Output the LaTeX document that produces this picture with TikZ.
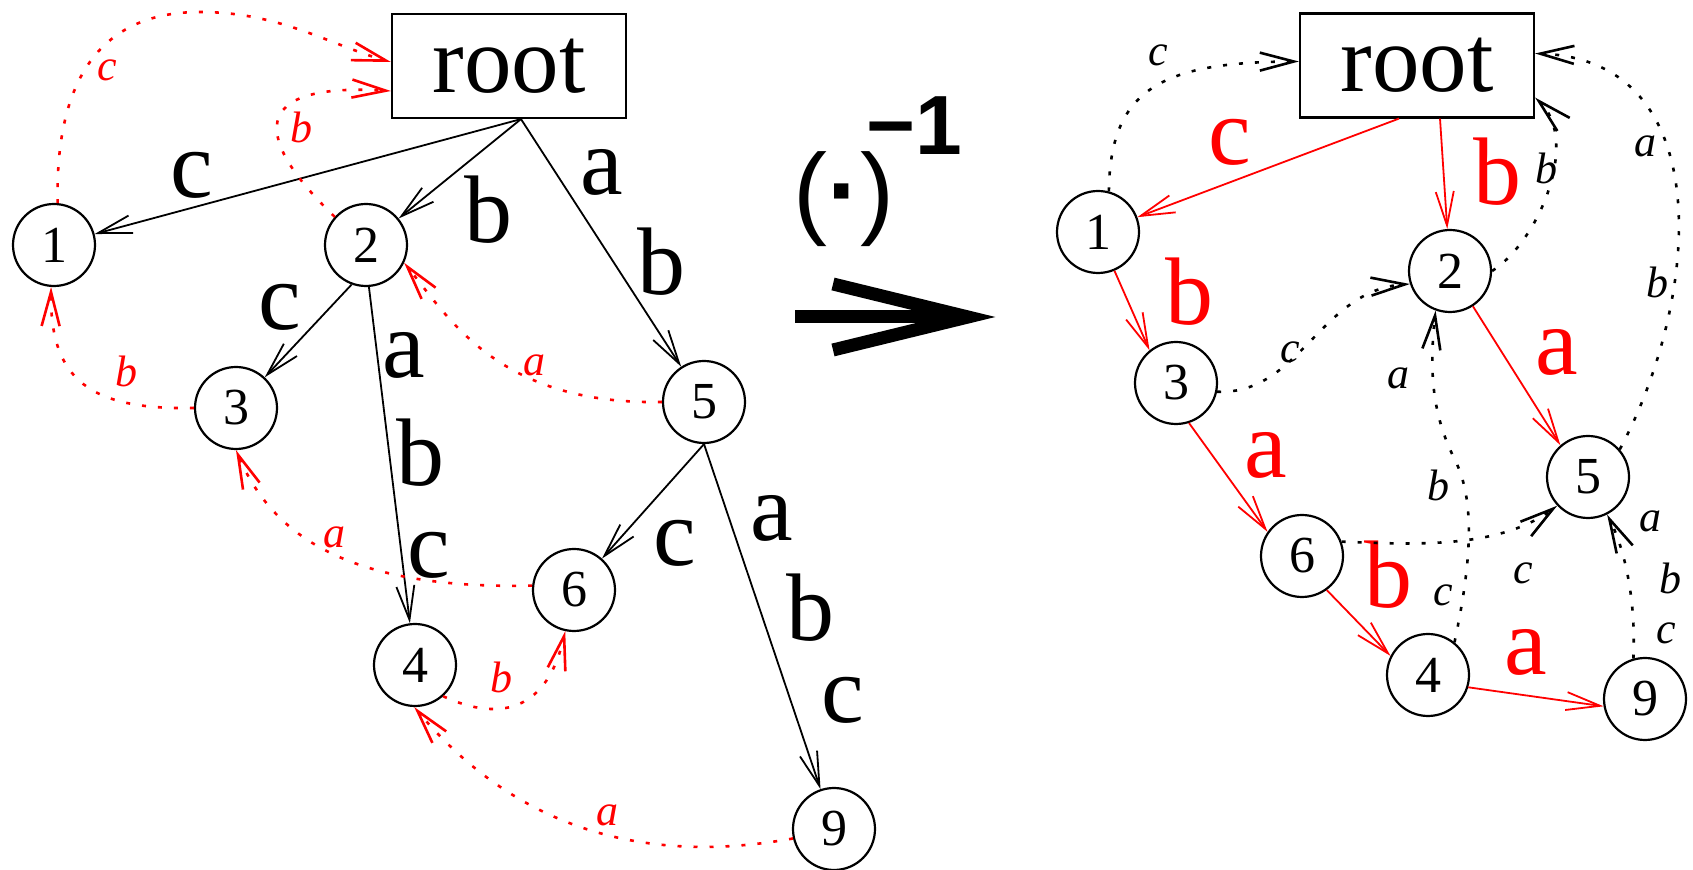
\documentclass[tikz,border=0pt]{standalone}
\usepackage{fontspec}
\setmainfont{Liberation Serif}
\setsansfont{Liberation Sans}
\usetikzlibrary{arrows.meta}
\begin{document}
\begin{tikzpicture}[x=0.5pt,y=-0.5pt,
  st/.style={circle,draw,line width=1.1pt,minimum size=41pt,inner sep=0pt,font=\fontsize{26pt}{26pt}\selectfont},
  rootbox/.style={draw,line width=1.1pt,minimum width=117pt,minimum height=52pt,inner sep=0pt,font=\fontsize{47.5pt}{47.5pt}\selectfont},
  barb/.style={-{Straight Barb[length=17pt,width=9pt]}},
  trel/.style={barb,line width=0.9pt},
  lnk/.style={barb,line width=1.3pt,dash pattern=on 2pt off 6pt},
  bigl/.style={inner sep=0pt,font=\fontsize{48pt}{48pt}\selectfont},
  smalll/.style={inner sep=0pt,font=\itshape\fontsize{22pt}{22pt}\selectfont},
]
\useasboundingbox (0,0) rectangle (1693,870);

% ---------------- left ----------------
\node[rootbox] (lroot) at (509,66) {root};
\node[st] (l1) at (54,245) {1};
\node[st] (l2) at (366,245) {2};
\node[st] (l3) at (236,408) {3};
\node[st] (l5) at (704,402) {5};
\node[st] (l6) at (574,590) {6};
\node[st] (l4) at (415,665) {4};
\node[st] (l9) at (834,829) {9};
\coordinate (la) at ([xshift=6pt]lroot.south);

\draw[trel] (la) -- (l1);
\draw[trel] (la) -- (l2);
\draw[trel] (la) -- (l5);
\draw[trel] (l2.-110) -- (l3);
\draw[trel] (l2.-86) -- (l4);
\draw[trel] (l5.-90) -- (l6);
\draw[trel] (l5.-90) -- (l9);

\node[bigl] (lc1) at (192,175) {c};
\node[bigl] (lb2) at (488,210) {b};
\node[bigl] (la5) at (602,172) {a};
\node[bigl] (lb5) at (661,262) {b};
\node[bigl] (lc3) at (280,307) {c};
\node[bigl] (la4) at (404,355) {a};
\node[bigl] (lb4) at (420,453) {b};
\node[bigl] (lc4) at (429,555) {c};
\node[bigl] (lc6) at (675,543) {c};
\node[bigl] (la9) at (772,518) {a};
\node[bigl] (lb9) at (810,608) {b};
\node[bigl] (lc9) at (843,700) {c};

\draw[lnk,red] (l1.85) .. controls (55,80) and (100,12) .. (200,12) .. controls (280,12) and (330,45) .. ([yshift=2pt]lroot.west);
\draw[lnk,red] (l2.138) .. controls (255,140) and (245,82) .. ([yshift=-12.5pt]lroot.west);
\draw[lnk,red] (l3.180) .. controls (90,410) and (50,380) .. (l1.-94);
\draw[lnk,red] (l5.180) .. controls (500,405) and (450,320) .. (l2.-25);
\draw[lnk,red] (l6.174) .. controls (340,590) and (270,530) .. (l3.-90);
\draw[lnk,red] (l4.-48) .. controls (490,718) and (545,720) .. (l6.-102);
\draw[lnk,red] (l9.193) .. controls (620,870) and (500,810) .. (l4.-91);

\node[smalll,red] (lsc1) at (107,70) {c};
\node[smalll,red] (lsb2) at (301,127) {b};
\node[smalll,red] (lsb3) at (126,371) {b};
\node[smalll,red] (lsa5) at (534,365) {a};
\node[smalll,red] (lsa6) at (334,537) {a};
\node[smalll,red] (lsb4) at (501,677) {b};
\node[smalll,red] (lsa9) at (607,815) {a};

% ---------------- middle ----------------
\node[anchor=base,inner sep=0pt,font=\sffamily\fontsize{51pt}{51pt}\selectfont] (inv) at (844,226) {(\textbf{·})};
\node[anchor=base west,inner sep=0pt,font=\sffamily\bfseries\fontsize{42pt}{42pt}\selectfont] (exp) at (866,155) {−1};
\draw[line width=6.5pt] (795,317) -- (965,317);
\draw[line width=6.5pt,line join=miter] (833,284) -- (968,317) -- (833,350);

% ---------------- right ----------------
\node[rootbox] (rroot) at (1417,65.5) {root};
\node[st] (r1) at (1098,232) {1};
\node[st] (r2) at (1450,271) {2};
\node[st] (r3) at (1176,383) {3};
\node[st] (r5) at (1588,477) {5};
\node[st] (r6) at (1302,556) {6};
\node[st] (r4) at (1428,675) {4};
\node[st] (r9) at (1645,699) {9};
\coordinate (rc) at ([xshift=-9pt]rroot.south);
\coordinate (rb) at ([xshift=11.5pt]rroot.south);

\draw[trel,red] (rc) -- (r1);
\draw[trel,red] (rb) -- (r2);
\draw[trel,red] (r1.-67) -- (r3.129);
\draw[trel,red] (r2.-57) -- (r5.131);
\draw[trel,red] (r3.-72) -- (r6.145);
\draw[trel,red] (r6.-54) -- (r4.153);
\draw[trel,red] (r4.-17) -- (r9.190);

\node[bigl,red] (rlc1) at (1230,142) {c};
\node[bigl,red] (rlb2) at (1497,172) {b};
\node[bigl,red] (rlb3) at (1189,292) {b};
\node[bigl,red] (rla5) at (1557,352) {a};
\node[bigl,red] (rla6) at (1266,455) {a};
\node[bigl,red] (rlb4) at (1388,575) {b};
\node[bigl,red] (rla9) at (1526,652) {a};

\draw[lnk] (r1.75) .. controls (1110,90) and (1160,62) .. ([yshift=2pt]rroot.west);
\draw[lnk] (r2.0) .. controls (1540,240) and (1580,140) .. ([yshift=10.5pt]rroot.south east);
\draw[lnk] (r3.-12) .. controls (1300,395) and (1320,290) .. (r2.198);
\draw[lnk] (r4.51) .. controls (1472,560) and (1475,500) .. (1455,460) .. controls (1435,420) and (1428,380) .. (r2.-110);
\draw[lnk] (r6.20) .. controls (1420,545) and (1500,548) .. (r5.223);
\draw[lnk] (r5.41) .. controls (1700,300) and (1720,60) .. ([yshift=6pt]rroot.east);
\draw[lnk] (r9.106) .. controls (1636,600) and (1625,550) .. (r5.-63);

\node[smalll] (rsc1) at (1158,55) {c};
\node[smalll] (rsb2) at (1546,168) {b};
\node[smalll] (rsc3) at (1290,352) {c};
\node[smalll] (rsa4) at (1398,378) {a};
\node[smalll] (rsb4) at (1438,485) {b};
\node[smalll] (rsc4) at (1443,595) {c};
\node[smalll] (rsc6) at (1523,573) {c};
\node[smalll] (rsa5) at (1645,146) {a};
\node[smalll] (rsb5) at (1657,282) {b};
\node[smalll] (rsa9) at (1650,521) {a};
\node[smalll] (rsb9) at (1670,578) {b};
\node[smalll] (rsc9) at (1666,633) {c};
\end{tikzpicture}
\end{document}
